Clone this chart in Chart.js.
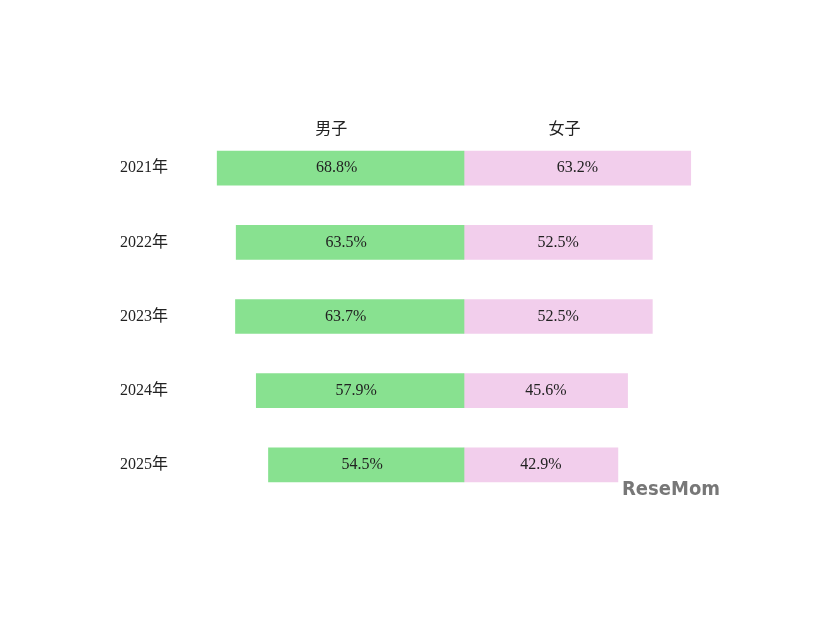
<!DOCTYPE html>
<html>
<head>
<meta charset="utf-8">
<script src="https://cdn.jsdelivr.net/npm/chart.js@4/dist/chart.umd.min.js"></script>
<style>
  html, body { margin: 0; padding: 0; background: #fff; }
  #wrap { width: 826px; height: 620px; position: relative; }
</style>
</head>
<body>
<div id="wrap"><canvas id="chart"></canvas></div>
<script>
const YEARS = ["2021年", "2022年", "2023年", "2024年", "2025年"];
const BOYS = [68.8, 63.5, 63.7, 57.9, 54.5];
const GIRLS = [63.2, 52.5, 52.5, 45.6, 42.9];
const SERIES_NAMES = ["男子", "女子"];

const FONT = "'Liberation Serif', 'Noto Sans CJK JP', serif";

const labelPlugin = {
  id: "labels",
  afterDatasetsDraw(chart) {
    const { ctx, scales } = chart;
    const x = scales.x, y = scales.y;
    ctx.save();
    ctx.fillStyle = "#222";
    ctx.textBaseline = "middle";
    ctx.font = "16px " + FONT;

    // values centered in bars
    ctx.textAlign = "center";
    YEARS.forEach((_, i) => {
      const py = y.getPixelForValue(i);
      ctx.fillText(BOYS[i].toFixed(1) + "%", x.getPixelForValue(-BOYS[i] / 2) - 4, py);
      ctx.fillText(GIRLS[i].toFixed(1) + "%", x.getPixelForValue(GIRLS[i] / 2), py);
    });

    // year labels
    ctx.textAlign = "left";
    YEARS.forEach((yr, i) => ctx.fillText(yr, 120, y.getPixelForValue(i)));

    // series headers
    ctx.textAlign = "center";
    ctx.fillText(SERIES_NAMES[0], x.getPixelForValue(-37), 130);
    ctx.fillText(SERIES_NAMES[1], x.getPixelForValue(28), 130);

    // watermark
    ctx.textAlign = "left";
    ctx.fillStyle = "#777";
    ctx.font = "bold 20px 'DejaVu Sans Condensed', 'DejaVu Sans', sans-serif";
    ctx.fillText("ReseMom", 622, 490);
    ctx.restore();
  }
};

new Chart(document.getElementById("chart"), {
  type: "bar",
  data: {
    labels: YEARS,
    datasets: [
      { label: SERIES_NAMES[0], data: BOYS.map(v => -v), backgroundColor: "#88e190" },
      { label: SERIES_NAMES[1], data: GIRLS, backgroundColor: "#f2ceec" }
    ]
  },
  options: {
    indexAxis: "y",
    responsive: true,
    maintainAspectRatio: false,
    animation: false,
    layout: { padding: { left: 177, right: 75, top: 131, bottom: 118 } },
    datasets: { bar: { barThickness: 34 } },
    scales: {
      x: { stacked: true, min: -80, max: 80, display: false },
      y: { stacked: true, display: false }
    },
    plugins: { legend: { display: false }, tooltip: { enabled: false } }
  },
  plugins: [labelPlugin]
});
</script>
</body>
</html>
